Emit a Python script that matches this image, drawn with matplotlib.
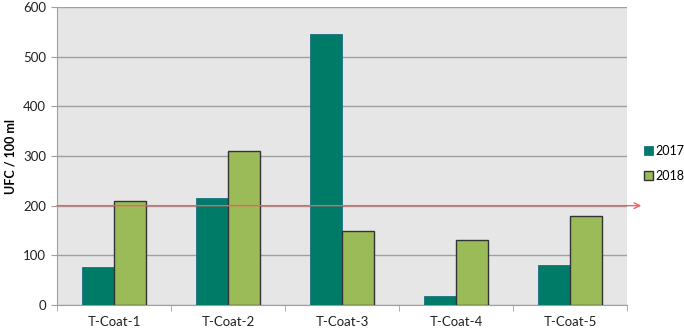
import numpy as np
import matplotlib.pyplot as plt

categories = ["T-Coat-1", "T-Coat-2", "T-Coat-3", "T-Coat-4", "T-Coat-5"]
values_2017 = [76, 215, 545, 19, 80]
values_2018 = [210, 310, 150, 130, 180]
limit = 200

plt.rcParams['font.family'] = ['Lato', 'DejaVu Sans']

fig = plt.figure(figsize=(6.84, 3.31), dpi=100)
ax = fig.add_axes([57 / 684, 26 / 331, 570 / 684, 298 / 331])
ax.set_facecolor("#E6E6E6")

x = np.arange(len(categories))
w = 0.285
ax.bar(x - w / 2, values_2017, w, color="#007B67", edgecolor="#1F6E86",
       linewidth=0.6, label="2017", zorder=3)
ax.bar(x + w / 2, values_2018, w, color="#9BBB59", edgecolor="#333333",
       linewidth=1.0, label="2018", zorder=3)

# limit line, running out past the plot area with an open arrow
ax.annotate("", xy=(1.025, limit), xycoords=("axes fraction", "data"),
            xytext=(0, limit), textcoords=("axes fraction", "data"),
            arrowprops=dict(arrowstyle="->", color="#F06060", lw=1.0,
                            shrinkA=0, shrinkB=0, mutation_scale=10),
            zorder=5, annotation_clip=False)

ax.set_xlim(-0.5, len(categories) - 0.5)
ax.set_ylim(0, 600)
ax.set_yticks(range(0, 601, 100))
ax.set_xticks(x)
ax.set_xticklabels(categories)
ax.set_xticks(np.arange(-0.5, len(categories)), minor=True)
ax.tick_params(axis="x", which="major", length=0, pad=8)
ax.tick_params(axis="x", which="minor", length=4, color="#A0A0A0")
ax.tick_params(axis="y", length=4, color="#A0A0A0", pad=4)
ax.tick_params(labelsize=9.5, labelcolor="#222222")
ax.yaxis.grid(True, color="#A0A0A0", linewidth=1.0, zorder=1)
ax.set_axisbelow(True)

for side in ["top", "right"]:
    ax.spines[side].set_visible(False)
for side in ["left", "bottom"]:
    ax.spines[side].set_color("#A0A0A0")

ax.set_ylabel("UFC / 100 ml", fontsize=9, fontweight="bold")
ax.yaxis.set_label_coords(-40 / 570, 0.5)

fig.legend(loc="upper left", bbox_to_anchor=(644 / 684, 1 - 145 / 331),
           frameon=False, fontsize=9, handlelength=0.75, handleheight=0.75,
           handletextpad=0.2, labelspacing=1.05, borderpad=0, borderaxespad=0)

fig.savefig("out.png", dpi=100)
